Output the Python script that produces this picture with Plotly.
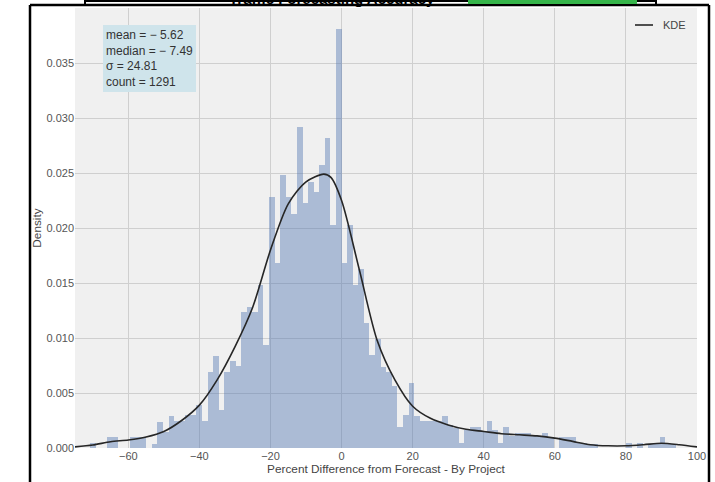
import plotly.graph_objects as go

# ---- data ----
bin_width = 1.57
first_bin_index = -45  # bins are [k*w, (k+1)*w]
density = [
    0.0005, 0, 0, 0.0010, 0.0010, 0, 0, 0.0010, 0.0010, 0.0010,
    0, 0.0004, 0.0024, 0.0015, 0.0029, 0.0025, 0.0025, 0.0030, 0.0030, 0.0039,
    0.0025, 0.0069, 0.0084, 0.0035, 0.0069, 0.0079, 0.0075, 0.0124, 0.0128, 0.0124,
    0.0148, 0.0094, 0.0228, 0.0168, 0.0248, 0.0228, 0.0213, 0.0292, 0.0223, 0.0242,
    0.0233, 0.0257, 0.0282, 0.0203, 0.0381, 0.0168, 0.0203, 0.0148, 0.0163, 0.0114,
    0.0085, 0.0099, 0.0074, 0.0069, 0.0056, 0.0019, 0.0030, 0.0059, 0.0029, 0.0025,
    0.0025, 0.0025, 0.0025, 0.0029, 0.0021, 0.0018, 0.0005, 0.0016, 0.0019, 0.0019,
    0.0015, 0.0025, 0.0016, 0.0005, 0.0019, 0.0011, 0.0014, 0.0014, 0.0014, 0.0012,
    0.0011, 0.0014, 0.0010, 0, 0.0010, 0.0010, 0.0010, 0.0005, 0.0005, 0.0004,
    0.0004, 0, 0, 0, 0, 0, 0.0005, 0, 0.0005, 0,
    0.0004, 0.0004, 0.0010, 0.0004, 0.0004,
]

kde_x = [-75, -70, -65, -60, -55, -50, -45, -40, -35, -30, -25, -20, -15, -10,
         -5, -3, 0, 5, 10, 15, 20, 25, 30, 35, 40, 45, 50, 55, 60, 65, 70, 75,
         80, 85, 90, 95, 100]
kde_y = [0.0001, 0.00027, 0.00057, 0.00073, 0.0010, 0.0015, 0.0025, 0.0039,
         0.0062, 0.0092, 0.0128, 0.0180, 0.0222, 0.0242, 0.0249, 0.0246, 0.0225,
         0.0162, 0.0098, 0.0062, 0.0038, 0.0027, 0.0021, 0.0017, 0.0015, 0.0013,
         0.0012, 0.0011, 0.0009, 0.0006, 0.0003, 0.0002, 0.0002, 0.0003, 0.00043,
         0.0003, 0.0001]

x_ticks = [-60, -40, -20, 0, 20, 40, 60, 80, 100]
x_tick_labels = ["−60", "−40", "−20", "0", "20", "40", "60", "80", "100"]
y_ticks = [0.000, 0.005, 0.010, 0.015, 0.020, 0.025, 0.030, 0.035]

stats_lines = ["mean = − 5.62", "median = − 7.49", "σ = 24.81", "count = 1291"]
title_text = "Traffic Forecasting Accuracy"
x_title = "Percent Difference from Forecast - By Project"
y_title = "Density"

bin_centers = [(first_bin_index + i + 0.5) * bin_width for i in range(len(density))]

# ---- layout geometry (pixels) ----
W, H = 715, 482
L, R, T, B = 75, 18, 8, 34
PW, PH = W - L - R, H - T - B


def px(xp):
    return (xp - L) / PW


def py(yp):
    return (H - B - yp) / PH


FONT = "Liberation Sans, Arial, sans-serif"

fig = go.Figure()
fig.add_trace(go.Bar(
    x=bin_centers, y=density, width=bin_width,
    marker=dict(color="rgba(76,114,176,0.42)", line=dict(width=0)),
    showlegend=False, hoverinfo="skip",
))
fig.add_trace(go.Scatter(
    x=kde_x, y=kde_y, mode="lines", name="KDE",
    line=dict(color="#262626", width=1.6, shape="spline", smoothing=0.8),
    showlegend=False,
))

fig.update_layout(
    width=W, height=H,
    margin=dict(l=L, r=R, t=T, b=B, autoexpand=False),
    paper_bgcolor="white", plot_bgcolor="#f0f0f0",
    bargap=0,
    font=dict(family=FONT, size=11, color="#555555"),
    xaxis=dict(
        range=[-75, 100], tickvals=x_ticks, ticktext=x_tick_labels,
        showgrid=True, gridcolor="#cfcfcf", gridwidth=1, zeroline=False,
        showline=False, ticks="", tickfont=dict(size=11, color="#555555"),
        title=dict(text=x_title, standoff=2, font=dict(size=11.8, color="#444444")),
        automargin=False,
    ),
    yaxis=dict(
        range=[0, 0.040], tickvals=y_ticks, tickformat=".3f",
        showgrid=True, gridcolor="#cfcfcf", gridwidth=1, zeroline=False,
        showline=False, ticks="", tickfont=dict(size=11, color="#555555"),
        title=dict(text=y_title, standoff=2, font=dict(size=11.8, color="#444444")),
        automargin=False,
    ),
)

shapes = []
# outer black frame
fl, fr, ft = px(30), px(709), py(5)
shapes.append(dict(type="line", xref="paper", yref="paper", x0=fl, x1=fl, y0=py(490), y1=ft,
                   line=dict(color="black", width=2.5)))
shapes.append(dict(type="line", xref="paper", yref="paper", x0=fr, x1=fr, y0=py(490), y1=ft,
                   line=dict(color="black", width=2.5)))
shapes.append(dict(type="line", xref="paper", yref="paper", x0=fl, x1=fr, y0=ft, y1=ft,
                   line=dict(color="black", width=2.5)))
# cropped upper frame
shapes.append(dict(type="line", xref="paper", yref="paper", x0=px(85), x1=px(656), y0=py(1), y1=py(1),
                   line=dict(color="black", width=2)))
shapes.append(dict(type="line", xref="paper", yref="paper", x0=px(85), x1=px(85), y0=py(5), y1=py(-2),
                   line=dict(color="black", width=2)))
shapes.append(dict(type="line", xref="paper", yref="paper", x0=px(656), x1=px(656), y0=py(5), y1=py(-2),
                   line=dict(color="black", width=2)))
# green box (cropped)
shapes.append(dict(type="rect", xref="paper", yref="paper", x0=px(468), x1=px(637), y0=py(4), y1=py(-5),
                   fillcolor="#36b54a", line=dict(width=0)))
# legend line sample
shapes.append(dict(type="line", xref="paper", yref="paper", x0=px(635), x1=px(653), y0=py(25), y1=py(25),
                   line=dict(color="#262626", width=1.6)))
fig.update_layout(shapes=shapes)

fig.add_annotation(
    xref="paper", yref="paper", x=px(332), y=py(-2), xanchor="center", yanchor="middle",
    text="<b>" + title_text + "</b>", showarrow=False,
    font=dict(family=FONT, size=15, color="black"),
)
fig.add_annotation(
    xref="paper", yref="paper", x=px(661), y=py(25), xanchor="left", yanchor="middle",
    text="KDE", showarrow=False, font=dict(size=11, color="#444444"),
)
fig.add_annotation(
    xref="paper", yref="paper", x=px(103), y=py(25), xanchor="left", yanchor="top",
    text="<br>".join(stats_lines), align="left", showarrow=False,
    bgcolor="rgb(207,228,235)", borderpad=3, borderwidth=0,
    font=dict(size=12, color="#333333"),
)

fig.write_html("out.html", config={"displayModeBar": False},
               post_script="document.body.style.margin='0';")
